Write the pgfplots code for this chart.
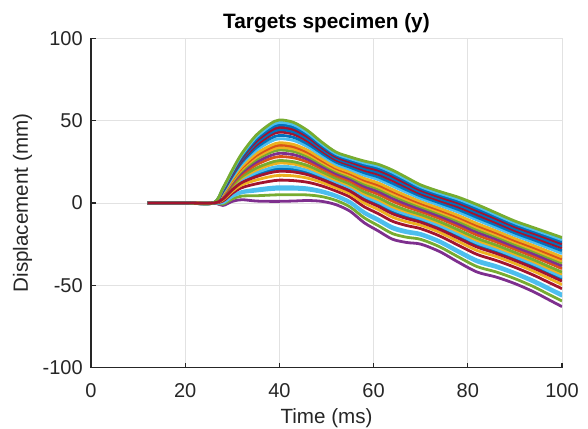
\documentclass[border=0pt]{standalone}
\usepackage{fontspec}
\setmainfont{Liberation Sans}
\usepackage{pgfplots}
\pgfplotsset{compat=1.18}
\definecolor{axgray}{rgb}{0.15,0.15,0.15}
\definecolor{gridgray}{RGB}{226,226,226}
\definecolor{mblue}{rgb}{0,0.447,0.741}
\definecolor{morange}{rgb}{0.85,0.325,0.098}
\definecolor{myellow}{rgb}{0.929,0.694,0.125}
\definecolor{mpurple}{rgb}{0.494,0.184,0.556}
\definecolor{mgreen}{rgb}{0.466,0.674,0.188}
\definecolor{mlblue}{rgb}{0.301,0.745,0.933}
\definecolor{mred}{rgb}{0.635,0.078,0.184}
\begin{document}
\begin{tikzpicture}
\begin{axis}[
  scale only axis, width=235.5pt, height=164.5pt,
  xmin=0, xmax=100, ymin=-100, ymax=100,
  xtick={0,20,40,60,80,100}, xticklabels={0,20,40,60,80,100},
  ytick={-100,-50,0,50,100}, yticklabels={-100,-50,0,50,100},
  axis lines*=left,
  axis line style={-, draw=axgray, line width=0.6pt},
  tick style={draw=axgray, line width=0.6pt},
  tick align=inside, major tick length=2.4pt,
  grid=major, grid style={draw=gridgray, line width=0.5pt},
  tick label style={font=\fontsize{10}{12}\selectfont, text=axgray},
  xticklabel style={yshift=-4.5pt},
  yticklabel style={xshift=-0.6pt},
  label style={font=\fontsize{10.3}{12}\selectfont, text=axgray},
  xlabel={Time (ms)},
  xlabel style={at={(axis description cs:0.5,0)}, anchor=base, yshift=-28pt},
  ylabel={Displacement (mm)},
  ylabel style={at={(axis description cs:0,0.5)}, anchor=base, yshift=31.5pt},
  title={Targets specimen (y)},
  title style={font=\fontsize{10.4}{12}\bfseries\selectfont, text=black, at={(axis description cs:0.5,1)}, anchor=base, yshift=-1pt},
  every axis plot/.append style={line width=1.4pt, smooth, no markers},
]
\coordinate (BL) at (rel axis cs:0,0);
\coordinate (TR) at (rel axis cs:1,1);
% curve 0
\addplot[mpurple] coordinates {(12,0)(20,0)(26,0)(28,-1.5)(30,1)(32,2)(35,1.2)(38,1)(40,1)(43,1.2)(46,1.5)(49,1)(52,-1)(55,-5)(58,-12)(61,-17)(64,-22)(67,-24)(70,-25)(74,-29.5)(78,-36)(82,-42)(86,-45)(90,-49)(94,-54)(97,-58.5)(100,-63)};
% curve 1
\addplot[mgreen] coordinates {(12,0)(20,0)(26,0)(28,-0.7)(30,2.5)(32,4.2)(35,4.4)(38,4.8)(40,5.0)(43,5.0)(46,4.9)(49,3.9)(52,1.6)(55,-2.4)(58,-9.0)(61,-13.8)(64,-18.6)(67,-20.8)(70,-22.1)(74,-26.6)(78,-32.8)(82,-38.7)(86,-41.9)(90,-46.0)(94,-50.9)(97,-55.3)(100,-59.6)};
% curve 2
\addplot[mlblue] coordinates {(12,0)(20,0)(26,0)(28,0.1)(30,3.9)(32,6.2)(35,7.2)(38,8.1)(40,8.4)(43,8.4)(46,7.9)(49,6.4)(52,3.8)(55,-0.1)(58,-6.4)(61,-10.9)(64,-15.7)(67,-18.1)(70,-19.6)(74,-24.0)(78,-30.1)(82,-35.9)(86,-39.2)(90,-43.3)(94,-48.2)(97,-52.4)(100,-56.7)};
% curve 3
\addplot[mlblue] coordinates {(12,0)(20,0)(26,0)(28,0.4)(30,4.4)(32,7.0)(35,8.4)(38,9.5)(40,9.9)(43,9.8)(46,9.2)(49,7.5)(52,4.8)(55,0.9)(58,-5.3)(61,-9.7)(64,-14.4)(67,-16.9)(70,-18.5)(74,-22.9)(78,-28.9)(82,-34.6)(86,-38.0)(90,-42.2)(94,-47.0)(97,-51.2)(100,-55.4)};
% curve 4
\addplot[mred] coordinates {(12,0)(20,0)(26,0)(28,1.2)(30,5.9)(32,9.3)(35,11.6)(38,13.2)(40,13.9)(43,13.6)(46,12.6)(49,10.4)(52,7.3)(55,3.6)(58,-2.3)(61,-6.5)(64,-11.1)(67,-13.7)(70,-15.6)(74,-20.0)(78,-25.7)(82,-31.3)(86,-34.9)(90,-39.1)(94,-43.9)(97,-48.0)(100,-52.1)};
% curve 5
\addplot[myellow] coordinates {(12,0)(20,0)(26,0)(28,1.9)(30,7.1)(32,11.0)(35,13.9)(38,16.0)(40,16.8)(43,16.5)(46,15.1)(49,12.5)(52,9.2)(55,5.6)(58,0.0)(61,-4.0)(64,-8.6)(67,-11.4)(70,-13.5)(74,-17.8)(78,-23.4)(82,-28.9)(86,-32.5)(90,-36.8)(94,-41.5)(97,-45.5)(100,-49.6)};
% curve 7
\addplot[mblue] coordinates {(12,0)(20,0)(26,0)(28,2.7)(30,8.6)(32,13.2)(35,17.1)(38,19.8)(40,20.8)(43,20.3)(46,18.5)(49,15.4)(52,11.8)(55,8.2)(58,3.0)(61,-0.8)(64,-5.2)(67,-8.2)(70,-10.6)(74,-14.9)(78,-20.2)(82,-25.6)(86,-29.4)(90,-33.8)(94,-38.4)(97,-42.3)(100,-46.2)};
% curve 8
\addplot[mlblue] coordinates {(12,0)(20,0)(26,0)(28,3.0)(30,9.2)(32,14.0)(35,18.3)(38,21.2)(40,22.3)(43,21.8)(46,19.8)(49,16.5)(52,12.8)(55,9.2)(58,4.1)(61,0.4)(64,-3.9)(67,-7.0)(70,-9.5)(74,-13.8)(78,-19.0)(82,-24.4)(86,-28.2)(90,-32.7)(94,-37.2)(97,-41.1)(100,-44.9)};
% curve 9
\addplot[myellow] coordinates {(12,0)(20,0)(26,0)(28,3.4)(30,9.9)(32,15.2)(35,19.9)(38,23.1)(40,24.3)(43,23.7)(46,21.5)(49,17.9)(52,14.0)(55,10.5)(58,5.6)(61,2.0)(64,-2.3)(67,-5.4)(70,-8.1)(74,-12.3)(78,-17.4)(82,-22.7)(86,-26.7)(90,-31.1)(94,-35.7)(97,-39.5)(100,-43.3)};
% curve 10
\addplot[mgreen] coordinates {(12,0)(20,0)(26,0)(28,3.8)(30,10.5)(32,16.0)(35,21.1)(38,24.5)(40,25.8)(43,25.1)(46,22.8)(49,19.0)(52,15.0)(55,11.5)(58,6.8)(61,3.3)(64,-1.0)(67,-4.3)(70,-7.0)(74,-11.3)(78,-16.3)(82,-21.5)(86,-25.5)(90,-30.0)(94,-34.5)(97,-38.3)(100,-42.0)};
% curve 11
\addplot[morange] coordinates {(12,0)(20,0)(26,0)(28,4.3)(30,11.5)(32,17.4)(35,23.1)(38,26.9)(40,28.2)(43,27.5)(46,24.9)(49,20.8)(52,16.6)(55,13.2)(58,8.6)(61,5.3)(64,1.1)(67,-2.3)(70,-5.2)(74,-9.4)(78,-14.3)(82,-19.5)(86,-23.6)(90,-28.1)(94,-32.6)(97,-36.2)(100,-39.9)};
% curve 12
\addplot[mpurple] coordinates {(12,0)(20,0)(26,0)(28,4.7)(30,12.2)(32,18.5)(35,24.7)(38,28.7)(40,30.2)(43,29.4)(46,26.6)(49,22.2)(52,17.9)(55,14.5)(58,10.1)(61,6.9)(64,2.8)(67,-0.7)(70,-3.8)(74,-8.0)(78,-12.7)(82,-17.8)(86,-22.0)(90,-26.6)(94,-31.0)(97,-34.6)(100,-38.2)};
% curve 13
\addplot[mgreen] coordinates {(12,0)(20,0)(26,0)(28,5.1)(30,13.0)(32,19.6)(35,26.3)(38,30.6)(40,32.2)(43,31.3)(46,28.3)(49,23.7)(52,19.2)(55,15.8)(58,11.6)(61,8.5)(64,4.5)(67,0.9)(70,-2.3)(74,-6.5)(78,-11.1)(82,-16.2)(86,-20.4)(90,-25.1)(94,-29.4)(97,-33.0)(100,-36.5)};
% curve 14
\addplot[myellow] coordinates {(12,0)(20,0)(26,0)(28,5.4)(30,13.5)(32,20.5)(35,27.5)(38,32.0)(40,33.7)(43,32.8)(46,29.6)(49,24.8)(52,20.1)(55,16.8)(58,12.8)(61,9.7)(64,5.7)(67,2.1)(70,-1.2)(74,-5.4)(78,-9.9)(82,-14.9)(86,-19.3)(90,-23.9)(94,-28.3)(97,-31.8)(100,-35.3)};
% curve 15
\addplot[morange] coordinates {(12,0)(20,0)(26,0)(28,5.7)(30,14.1)(32,21.3)(35,28.7)(38,33.4)(40,35.2)(43,34.2)(46,30.8)(49,25.8)(52,21.1)(55,17.8)(58,13.9)(61,10.9)(64,7.0)(67,3.3)(70,-0.2)(74,-4.3)(78,-8.7)(82,-13.7)(86,-18.1)(90,-22.8)(94,-27.1)(97,-30.6)(100,-34.0)};
% curve 16
\addplot[myellow] coordinates {(12,0)(20,0)(26,0)(28,6.1)(30,14.7)(32,22.2)(35,29.9)(38,34.8)(40,36.6)(43,35.6)(46,32.1)(49,26.9)(52,22.0)(55,18.8)(58,15.0)(61,12.2)(64,8.2)(67,4.4)(70,0.9)(74,-3.2)(78,-7.6)(82,-12.5)(86,-16.9)(90,-21.6)(94,-25.9)(97,-29.3)(100,-32.8)};
% curve 17
\addplot[mlblue] coordinates {(12,0)(20,0)(26,0)(28,6.6)(30,15.6)(32,23.6)(35,31.8)(38,37.2)(40,39.1)(43,38.0)(46,34.2)(49,28.7)(52,23.6)(55,20.4)(58,16.9)(61,14.2)(64,10.3)(67,6.4)(70,2.7)(74,-1.4)(78,-5.6)(82,-10.4)(86,-15.0)(90,-19.7)(94,-24.0)(97,-27.3)(100,-30.7)};
% curve 18
\addplot[mblue] coordinates {(12,0)(20,0)(26,0)(28,7.0)(30,16.4)(32,24.7)(35,33.4)(38,39.1)(40,41.1)(43,39.9)(46,35.9)(49,30.2)(52,24.9)(55,21.7)(58,18.4)(61,15.8)(64,12.0)(67,8.0)(70,4.2)(74,0.1)(78,-4.0)(82,-8.8)(86,-13.4)(90,-18.2)(94,-22.4)(97,-25.7)(100,-29.0)};
% curve 19
\addplot[mred] coordinates {(12,0)(20,0)(26,0)(28,7.4)(30,17.2)(32,25.8)(35,35.0)(38,41.0)(40,43.1)(43,41.8)(46,37.6)(49,31.6)(52,26.2)(55,23.1)(58,19.9)(61,17.4)(64,13.7)(67,9.6)(70,5.6)(74,1.5)(78,-2.4)(82,-7.2)(86,-11.9)(90,-16.7)(94,-20.9)(97,-24.1)(100,-27.3)};
% curve 20
\addplot[mblue] coordinates {(12,0)(20,0)(26,0)(28,7.7)(30,17.7)(32,26.6)(35,36.2)(38,42.4)(40,44.6)(43,43.3)(46,38.9)(49,32.7)(52,27.2)(55,24.0)(58,21.0)(61,18.6)(64,15.0)(67,10.8)(70,6.7)(74,2.6)(78,-1.2)(82,-5.9)(86,-10.7)(90,-15.6)(94,-19.7)(97,-22.9)(100,-26.0)};
% curve 21
\addplot[mred] coordinates {(12,0)(20,0)(26,0)(28,8.1)(30,18.3)(32,27.5)(35,37.4)(38,43.8)(40,46.0)(43,44.7)(46,40.2)(49,33.8)(52,28.1)(55,25.0)(58,22.1)(61,19.9)(64,16.2)(67,11.9)(70,7.8)(74,3.7)(78,0.0)(82,-4.7)(86,-9.5)(90,-14.4)(94,-18.5)(97,-21.6)(100,-24.8)};
% curve 22
\addplot[mblue] coordinates {(12,0)(20,0)(26,0)(28,8.4)(30,18.9)(32,28.3)(35,38.6)(38,45.2)(40,47.5)(43,46.1)(46,41.5)(49,34.8)(52,29.1)(55,26.0)(58,23.3)(61,21.1)(64,17.5)(67,13.1)(70,8.8)(74,4.8)(78,1.1)(82,-3.5)(86,-8.3)(90,-13.3)(94,-17.3)(97,-20.4)(100,-23.5)};
% curve 23
\addplot[mlblue] coordinates {(12,0)(20,0)(26,0)(28,8.7)(30,19.4)(32,29.2)(35,39.8)(38,46.6)(40,49.0)(43,47.6)(46,42.7)(49,35.9)(52,30.0)(55,27.0)(58,24.4)(61,22.3)(64,18.7)(67,14.3)(70,9.9)(74,5.9)(78,2.3)(82,-2.2)(86,-7.2)(90,-12.1)(94,-16.2)(97,-19.2)(100,-22.3)};
% curve 24
\addplot[mgreen] coordinates {(12,0)(20,0)(26,0)(28,9)(30,20)(32,30)(35,41)(38,48)(40,50.5)(43,49)(46,44)(49,37)(52,31)(55,28)(58,25.5)(61,23.5)(64,20)(67,15.5)(70,11)(74,7)(78,3.5)(82,-1)(86,-6)(90,-11)(94,-15)(97,-18)(100,-21)};
% curve 6 (drawn last)
\addplot[mred] coordinates {(12,0)(20,0)(26,0)(28,2.4)(30,8.0)(32,12.4)(35,15.9)(38,18.4)(40,19.3)(43,18.9)(46,17.2)(49,14.3)(52,10.8)(55,7.2)(58,1.9)(61,-2.0)(64,-6.5)(67,-9.4)(70,-11.7)(74,-16.0)(78,-21.4)(82,-26.8)(86,-30.6)(90,-34.9)(94,-39.6)(97,-43.5)(100,-47.5)};
\end{axis}
\pgfresetboundingbox
\path ([xshift=-45.5pt,yshift=-30.25pt]BL) rectangle ([xshift=13pt,yshift=19.25pt]TR);
\end{tikzpicture}
\end{document}
